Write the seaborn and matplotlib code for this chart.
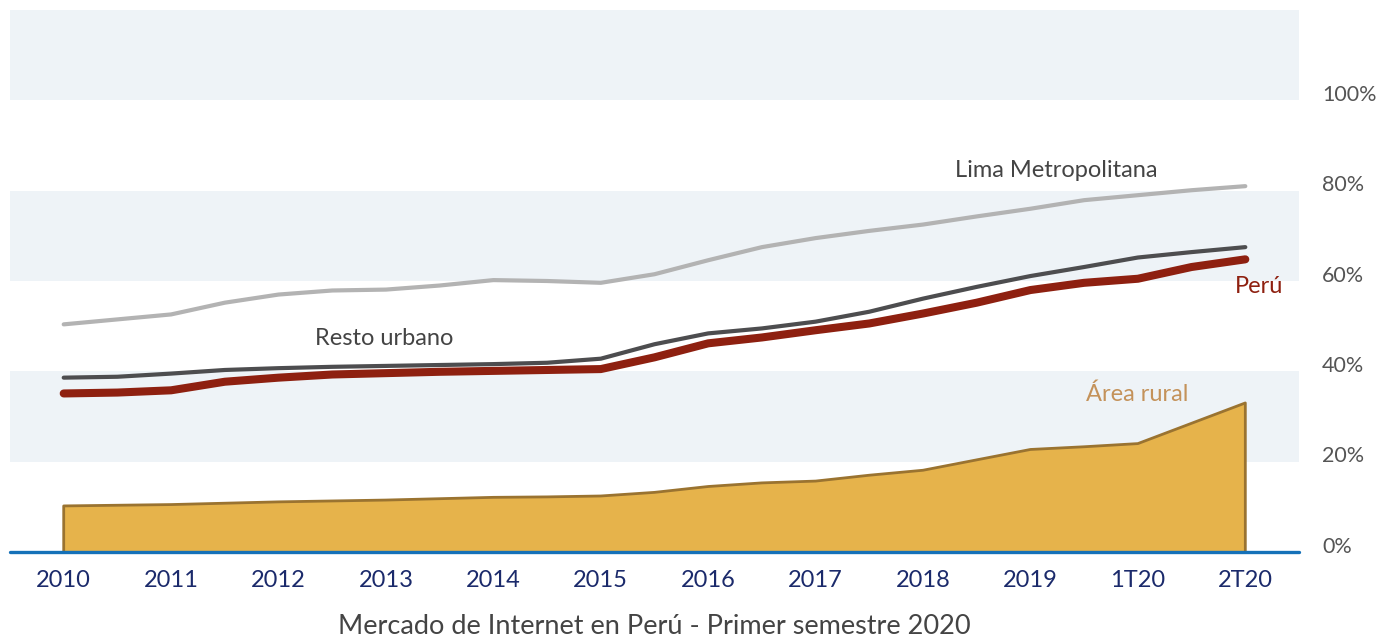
import numpy as np
import pandas as pd
import matplotlib
matplotlib.use('Agg')
import matplotlib.pyplot as plt
import seaborn as sns

sns.set_style('white')
plt.rcParams['font.family'] = ['Lato', 'DejaVu Sans']

# periodos (cada punto = medio periodo), etiquetas en los periodos enteros
tick_labels = ['2010', '2011', '2012', '2013', '2014', '2015', '2016',
               '2017', '2018', '2019', '1T20', '2T20']

lima = [50.4, 51.5, 52.6, 55.2, 57.0, 57.9, 58.1, 59.0, 60.2, 60.0, 59.6, 61.5,
        64.6, 67.5, 69.5, 71.1, 72.5, 74.3, 76.0, 77.9, 79.0, 80.1, 81.0]
resto = [38.6, 38.8, 39.5, 40.3, 40.7, 41.0, 41.2, 41.4, 41.6, 41.9, 42.8, 46.0,
         48.4, 49.5, 51.0, 53.2, 56.1, 58.7, 61.1, 63.1, 65.2, 66.4, 67.5]
peru = [35.1, 35.3, 35.8, 37.7, 38.6, 39.3, 39.6, 39.9, 40.1, 40.3, 40.5, 43.1,
        46.2, 47.5, 49.1, 50.6, 52.8, 55.2, 58.0, 59.6, 60.5, 63.1, 64.8]
rural = [10.2, 10.35, 10.5, 10.8, 11.1, 11.3, 11.5, 11.8, 12.1, 12.2, 12.4, 13.2,
         14.5, 15.3, 15.7, 17.0, 18.1, 20.4, 22.7, 23.3, 24.0, 28.5, 33.0]

df = pd.DataFrame({'x': np.arange(len(lima)) / 2,
                   'Lima Metropolitana': lima, 'Resto urbano': resto,
                   'Perú': peru, 'Área rural': rural})

fig = plt.figure(figsize=(13.81, 6.42), dpi=100)
ax = fig.add_axes([0.00724, 0.1402, 0.9334, 0.8442])

for lo, hi in [(20, 40), (60, 80), (100, 120)]:
    ax.axhspan(lo, hi, color='#eef3f7', lw=0, zorder=0)

# área rural
ax.fill_between(df['x'], df['Área rural'], color='#e6b34b', lw=0, zorder=2)
ex = [df['x'].iloc[0]] + list(df['x']) + [df['x'].iloc[-1]]
ey = [0] + list(df['Área rural']) + [0]
ax.plot(ex, ey, color='#9a7330', lw=2, solid_joinstyle='round', zorder=3)

styles = [('Lima Metropolitana', '#b3b3b3', 3.0),
          ('Resto urbano', '#4d4d4f', 3.0),
          ('Perú', '#8e2010', 5.8)]
for i, (name, col, lw) in enumerate(styles):
    sns.lineplot(data=df, x='x', y=name, color=col, lw=lw, ax=ax,
                 solid_capstyle='round', solid_joinstyle='round', zorder=4 + i)

ax.axhline(0, color='#1571b8', lw=2.4, zorder=8, clip_on=False)

ax.set_xlim(-0.5, 11.5)
ax.set_ylim(0, 120)
for s in ax.spines.values():
    s.set_visible(False)

ax.set_xticks(range(len(tick_labels)))
ax.set_xticklabels(tick_labels)
ax.tick_params(axis='x', length=0, pad=13, labelsize=17, labelcolor='#1b2a6b')
ax.set_yticks([])
ax.set_xlabel('')
ax.set_ylabel('')

for v in range(0, 101, 20):
    ax.text(1.0178, v + 1.2, f'{v}%', transform=ax.get_yaxis_transform(),
            ha='left', va='center', fontsize=15.5, color='#555555')

ax.text(8.3, 84.5, 'Lima Metropolitana', fontsize=17, color='#444444', va='center')
ax.text(2.335, 47.3, 'Resto urbano', fontsize=17, color='#444444', va='center')
ax.text(10.9, 58.8, 'Perú', fontsize=17, color='#8e2010', va='center')
ax.text(9.52, 35.0, 'Área rural', fontsize=17, color='#c4925a', va='center')

fig.text(0.474, 0.024, 'Mercado de Internet en Perú - Primer semestre 2020',
         ha='center', va='center', fontsize=19.5, color='#444444')

fig.savefig('out.png', dpi=100, facecolor='white')
